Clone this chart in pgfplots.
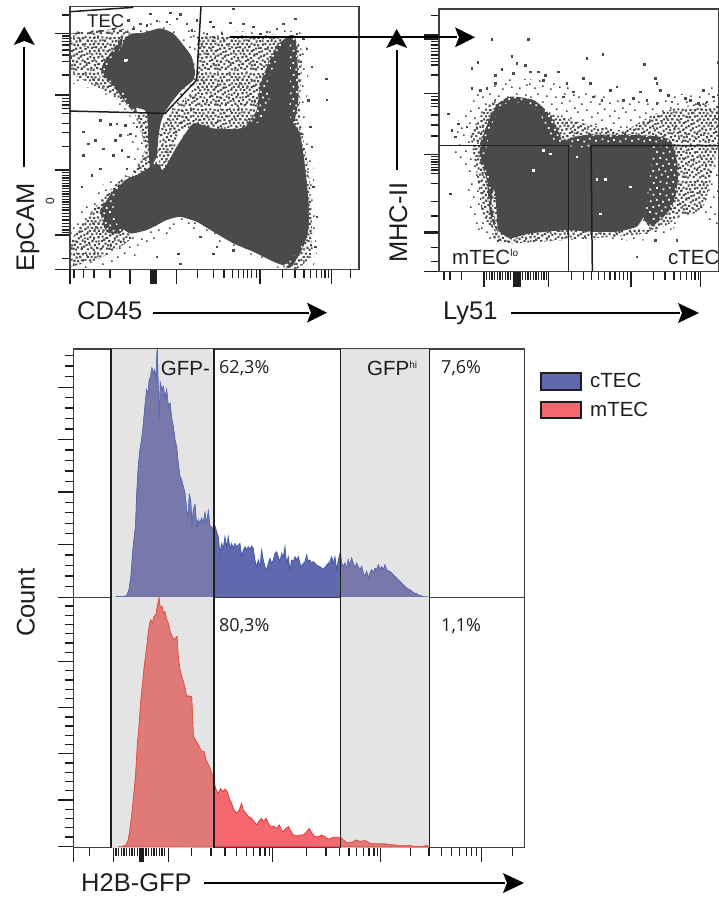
\documentclass[border=0pt]{standalone}
\usepackage{fontspec}
\setmainfont{Liberation Sans}
\newfontfamily\pct{Open Sans}
\usepackage{pgfplots}
\usepackage{pgfplotstable}
\usetikzlibrary{patterns}
\pgfplotsset{compat=1.18}
\definecolor{dens}{HTML}{4A4A4A}
\definecolor{band}{HTML}{E4E4E4}
\definecolor{bfill}{HTML}{6069AD}
\definecolor{bline}{HTML}{4058A8}
\definecolor{bfillm}{HTML}{7878AB}
\definecolor{blinem}{HTML}{5A6CB0}
\definecolor{rfill}{HTML}{F5686F}
\definecolor{rline}{HTML}{EE2A30}
\definecolor{rfillm}{HTML}{E07A78}
\definecolor{rlinem}{HTML}{E2553F}
\definecolor{ink}{HTML}{1E1E1E}
\def\spa#1#2{\pgfpathrectangle{\pgfpoint{#1pt}{#2pt}}{\pgfpoint{1.7pt}{1.7pt}}}
\def\spb#1#2{\pgfpathrectangle{\pgfpoint{#1pt}{#2pt}}{\pgfpoint{2.1pt}{2.1pt}}}
\pgfdeclarepatternformonly{specA}{\pgfpoint{-3pt}{-3pt}}{\pgfpoint{51pt}{51pt}}{\pgfpoint{48pt}{48pt}}{%
\spa{2}{3}\spa{11}{1}\spa{19}{6}\spa{29}{2}\spa{37}{7}\spa{44}{3}\spa{6}{10}\spa{15}{13}\spa{25}{10}\spa{33}{14}\spa{42}{12}\spa{1}{18}\spa{10}{20}\spa{21}{17}\spa{28}{21}\spa{38}{19}\spa{46}{22}\spa{5}{26}\spa{14}{28}\spa{23}{26}\spa{33}{27}\spa{41}{29}\spa{2}{33}\spa{9}{36}\spa{18}{34}\spa{27}{33}\spa{36}{36}\spa{45}{35}\spa{6}{42}\spa{14}{44}\spa{22}{41}\spa{31}{43}\spa{39}{42}\spa{46}{45}\spa{1}{46}\spa{25}{46}\pgfusepath{fill}}
\pgfdeclarepatternformonly{specB}{\pgfpoint{-3pt}{-3pt}}{\pgfpoint{39pt}{39pt}}{\pgfpoint{36pt}{36pt}}{%
\spb{0.4}{1.2}\spb{3.1}{0.3}\spb{4.8}{2.6}\spb{8.7}{1.1}\spb{11.2}{3.3}\spb{14.9}{0.6}\spb{18.3}{2.2}\spb{20.6}{0.2}\spb{24.2}{1.9}\spb{27.7}{0.8}\spb{30.1}{3.4}\spb{33.8}{1.3}
\spb{1.7}{5.2}\spb{7.3}{5.8}\spb{13.6}{5.1}\spb{16.2}{6.9}\spb{21.9}{4.7}\spb{26.1}{5.9}\spb{32.4}{6.3}\spb{34.9}{4.6}
\spb{0.2}{8.9}\spb{3.9}{8.1}\spb{9.6}{9.4}\spb{12.1}{8.2}\spb{19.4}{8.8}\spb{23.3}{8.3}\spb{28.8}{9.1}\spb{31.2}{10.2}
\spb{5.7}{11.6}\spb{7.9}{13.4}\spb{14.6}{11.2}\spb{17.3}{12.8}\spb{21.1}{11.9}\spb{25.4}{12.7}\spb{29.6}{13.3}\spb{34.1}{12.1}
\spb{1.2}{14.4}\spb{3.8}{15.9}\spb{11.3}{15.1}\spb{14.2}{16.3}\spb{19.2}{15.6}\spb{23.6}{16.4}\spb{27.2}{15.9}\spb{32.6}{16.2}
\spb{6.4}{17.8}\spb{9.1}{18.6}\spb{16.8}{18.9}\spb{21.4}{19.1}\spb{25.8}{19.2}\spb{30.4}{19.4}\spb{34.7}{18.8}
\spb{0.6}{20.1}\spb{3.2}{21.3}\spb{7.4}{21.9}\spb{12.4}{20.8}\spb{14.9}{22.6}\spb{18.9}{22.1}\spb{23.2}{22.7}\spb{28.1}{22.3}\spb{32.2}{22.8}
\spb{1.4}{25.2}\spb{5.1}{24.7}\spb{9.8}{25.4}\spb{12.3}{26.1}\spb{17.1}{25.6}\spb{20.7}{25.9}\spb{25.4}{26.2}\spb{29.9}{25.7}\spb{34.4}{26.3}
\spb{3.6}{28.4}\spb{7.2}{28.9}\spb{14.7}{28.8}\spb{18.6}{29.1}\spb{22.4}{28.6}\spb{27.3}{29.4}\spb{31.7}{29.2}
\spb{0.9}{31.4}\spb{5.4}{32.1}\spb{9.9}{31.7}\spb{12.6}{32.9}\spb{16.9}{32.3}\spb{21.2}{31.8}\spb{24.9}{32.4}\spb{29.3}{32.6}\spb{33.6}{31.9}\pgfusepath{fill}}
\pgfdeclarepatternformonly{specC}{\pgfpoint{-3pt}{-3pt}}{\pgfpoint{39pt}{39pt}}{\pgfpoint{36pt}{36pt}}{%
\spa{1.2}{2.1}\spa{7.3}{0.6}\spa{12.8}{3.4}\spa{19.1}{1.3}\spa{25.6}{2.8}\spa{31.4}{0.9}\spa{4.4}{7.2}\spa{10.2}{8.6}\spa{16.7}{6.9}\spa{22.3}{8.2}\spa{28.9}{7.7}\spa{33.9}{6.1}\spa{1.8}{12.8}\spa{7.9}{14.1}\spa{14.2}{12.4}\spa{20.1}{14.3}\spa{26.2}{13.6}\spa{32.4}{12.9}\spa{4.7}{19.3}\spa{11.3}{20.2}\spa{17.6}{18.6}\spa{23.8}{19.9}\spa{29.7}{18.9}\spa{34.6}{21.4}\spa{1.3}{24.7}\spa{8.1}{26.1}\spa{14.6}{24.9}\spa{20.9}{26.3}\spa{27.1}{25.2}\spa{32.8}{27.1}\spa{4.9}{31.2}\spa{11.6}{32.4}\spa{17.9}{30.8}\spa{24.3}{32.1}\spa{30.2}{31.6}\pgfusepath{fill}}
\pgfplotsset{
 flow/.style={scale only axis, y dir=reverse, tick align=outside,
  axis line style={line width=1.5pt,color=ink!85},
  xticklabels={}, yticklabels={}, tick style={line width=1.3pt,color=ink},
  major tick length=15pt, minor tick length=8.5pt, ytick pos=left, xtick pos=lower},
 dkdots/.style={only marks,color=dens,mark=square*,mark size=0.8pt,mark options={solid,draw=dens,fill=dens,line width=0.1pt}},
 wtdots/.style={only marks,color=white,mark=square*,mark size=0.8pt,mark options={solid,draw=white,fill=white,line width=0.1pt}},
 ra/.style={pattern=specA,pattern color=dens,draw=none,smooth,tension=0.4},
 rb/.style={pattern=specB,pattern color=dens,draw=none,smooth,tension=0.4},
 rcbase/.style={fill=dens,draw=none,smooth,tension=0.4},
 rc/.style={pattern=specC,pattern color=white,draw=none,smooth,tension=0.4},
 rd/.style={fill=dens,draw=none,smooth,tension=0.3},
 gate/.style={line width=1.5pt,color=ink,forget plot},
}
\newcommand{\arrowR}[4]{% x0,xbase,xtip,y
 \draw[line width=1.8pt,black](#1,-#4)--(#2+2,-#4);
 \fill[black](#3,-#4)--(#2,-#4-10)--(#2+4,-#4)--(#2,-#4+10)--cycle;}
\newcommand{\arrowU}[4]{% x,y0,ybase,ytip
 \draw[line width=1.8pt,black](#1,-#2)--(#1,-#3-2);
 \fill[black](#1,-#4)--(#1-10.5,-#3)--(#1,-#3+4)--(#1+10.5,-#3)--cycle;}
\pgfplotstableread{
x y
195 772
205 769
215 771
230 768
237 750
243 710
248 640
252 600
257 555
260 470
265 380
270 330
275 300
280 255
285 200
290 150
294 165
298 120
302 110
306 85
310 100
314 90
318 125
322 20
324 120
328 240
331 130
336 150
340 140
345 175
350 150
355 200
360 190
365 235
370 260
375 300
380 320
385 375
390 410
395 420
400 440
405 460
410 510
415 530
418 465
422 480
426 560
430 510
435 495
440 560
445 540
450 550
455 535
460 550
465 520
470 550
475 515
480 560
485 560
490 575
495 558
500 575
505 590
510 640
515 610
520 625
525 590
530 620
535 590
540 625
545 610
550 625
555 610
560 620
565 615
570 610
575 650
580 630
585 620
590 630
595 620
600 628
605 618
610 625
615 660
620 680
625 660
630 680
635 630
640 660
645 680
650 690
655 670
660 655
665 670
670 660
675 640
680 635
685 650
690 665
695 640
700 650
705 620
710 670
715 650
720 690
725 660
730 665
735 650
740 660
745 650
750 670
755 680
760 670
765 665
770 645
775 665
780 660
785 670
790 665
800 675
810 680
820 688
830 675
840 665
845 650
850 670
855 650
860 690
865 660
870 640
875 670
880 680
885 670
890 685
895 660
900 680
905 655
910 670
915 685
920 670
925 680
930 690
935 680
940 700
945 710
950 695
955 715
960 700
965 690
970 700
975 685
980 690
985 675
990 690
995 680
1000 690
1005 675
1010 690
1020 695
1030 705
1040 715
1050 725
1060 735
1070 745
1080 750
1090 758
1100 762
1110 767
1120 770
1130 771
1140 772
}\cTEC
\pgfplotstableread{
x y
205 770
215 770
228 766
235 750
240 720
245 680
250 630
255 580
258 540
262 470
268 400
272 340
277 290
283 230
288 190
292 160
296 120
302 90
308 100
312 80
318 75
322 50
327 25
331 55
336 50
340 70
345 65
350 90
355 100
360 125
365 135
370 150
376 145
381 140
385 205
390 240
395 260
400 275
405 295
410 320
415 318
425 320
430 440
436 450
445 465
455 485
462 485
468 510
478 530
485 550
492 570
497 597
505 610
512 596
518 605
525 597
532 605
538 625
545 640
552 660
560 670
568 660
575 640
580 660
588 670
595 680
605 685
612 695
620 705
628 692
635 685
640 695
648 685
655 700
662 710
670 708
680 715
688 705
698 725
708 715
716 710
722 722
730 735
740 738
750 735
760 735
770 725
778 715
786 730
795 740
805 740
815 735
825 740
835 748
850 742
865 742
880 750
890 758
905 758
920 750
930 755
945 752
960 760
975 762
990 762
1005 762
1020 764
1040 766
1060 768
1080 766
1090 770
1120 770
1130 766
1135 771
}\mTEC
\begin{document}
\begin{tikzpicture}[x=1pt,y=1pt]
\useasboundingbox (0,0) rectangle (719,-899);
%---------------- CD45 / EpCAM
\begin{axis}[flow,anchor=north west,at={(70pt,-6.7pt)},width=289pt,height=262.7pt,
 xmin=210,xmax=1077,ymin=20,ymax=808,
 xtick={210,390,452,455,458,461,464,467,470,530,780,995},
 minor xtick={222,250,282,330,593,640,672,697,715,730,742,755,770,848,885,912,932,950,965,975,985,1052},
 ytick={100,285,510,705,808},
 minor ytick={45,108,116,125,135,150,165,185,225,295,305,315,325,340,370,398,440,518,526,534,542,550,558,566,574,582,590,598,606,614,622,630,640,650,660,670,680,690,698,775}]
\addplot[ra] coordinates {(210,95)(400,75)(470,62)(550,85)(600,95)(700,95)(905,100)(925,250)(915,350)(940,500)(945,650)(945,790)(850,808)(780,775)(640,720)(590,690)(540,680)(480,720)(400,770)(330,790)(210,808)(210,700)(240,640)(290,570)(350,525)(400,510)(400,450)(380,420)(390,350)(330,290)(270,265)(210,240)(210,95)} --cycle;
\addplot[rb] coordinates {(210,100)(390,90)(320,190)(300,230)(345,260)(395,325)(300,265)(250,240)(210,210)(210,100)} --cycle;
\addplot[rb] coordinates {(590,105)(700,110)(860,110)(880,240)(870,380)(720,385)(640,385)(580,370)(530,410)(525,510)(480,525)(480,400)(510,340)(590,250)(590,105)} --cycle;
\addplot[rb] coordinates {(210,800)(215,720)(270,640)(350,550)(400,530)(350,680)(400,710)(300,775)(210,800)} --cycle;
\addplot[rb] coordinates {(860,105)(905,150)(900,350)(925,500)(935,650)(930,770)(850,800)(850,400)(860,105)} --cycle;
\addplot[rb] coordinates {(405,345)(445,335)(470,400)(470,490)(400,525)(420,480)(435,440)(405,345)} --cycle;
% dark base with white specks
\addplot[rcbase] coordinates {(780,250)(830,140)(885,110)(895,300)(880,390)(910,500)(925,600)(925,690)(900,760)(860,790)(860,400)(740,385)(770,330)(780,250)} --cycle;
\addplot[rc] coordinates {(780,250)(830,140)(885,110)(895,300)(880,390)(910,500)(925,600)(925,690)(900,760)(860,790)(860,400)(740,385)(770,330)(780,250)} --cycle;
\addplot[rcbase] coordinates {(300,630)(350,560)(380,560)(370,690)(320,695)(300,630)} --cycle;
\addplot[rc] coordinates {(300,630)(350,560)(380,560)(370,690)(320,695)(300,630)} --cycle;
\addplot[rcbase] coordinates {(370,105)(345,140)(310,190)(305,225)(345,265)(395,330)(410,330)(360,200)(370,105)} --cycle;
\addplot[rc] coordinates {(370,105)(345,140)(310,190)(305,225)(345,265)(395,330)(410,330)(360,200)(370,105)} --cycle;
% dense clouds
\addplot[rd] coordinates {(395,100)(430,98)(480,85)(520,100)(550,135)(575,170)(585,215)(580,240)(545,270)(520,300)(495,335)(482,370)(474,420)(470,470)(450,500)(445,430)(440,335)(400,320)(385,285)(345,250)(320,225)(325,185)(360,150)(375,115)(395,100)} --cycle;
\addplot[rd] coordinates {(350,570)(375,540)(420,520)(470,490)(490,510)(530,440)(580,370)(640,385)(720,385)(790,360)(810,290)(805,240)(850,135)(868,125)(870,250)(870,350)(900,400)(915,500)(925,600)(925,680)(915,720)(880,770)(850,795)(810,780)(760,755)(700,730)(640,695)(590,665)(540,650)(500,660)(440,690)(390,700)(350,670)(340,630)(350,570)} --cycle;
% individual events
\addplot[dkdots] coordinates {(450,40)(510,38)(530,55)(470,62)(420,70)(400,85)(440,75)(500,65)(560,70)(575,90)(590,60)(630,65)(640,80)(690,68)(730,70)(760,80)(800,95)(830,85)(850,70)(885,55)(700,25)(620,100)(540,42)(385,60)(360,92)(340,85)(300,92)(270,98)(235,98)
(978,235)(980,298)(945,740)(950,650)(940,560)(935,440)(930,380)(925,300)(935,200)(920,145)(910,115)(890,100)(640,110)(665,100)(720,110)(780,100)
(250,395)(285,420)(265,430)(345,420)(310,445)(250,465)(360,405)(300,360)(330,372)(300,505)(275,525)(245,560)(540,790)(600,710)(650,740)(535,760)(470,770)(640,760)(700,750)
(375,375)(350,370)(390,400)(365,450)(385,470)(340,465)(380,505)(410,380)} ;
\addplot[wtdots] coordinates {(375,180)(380,178)} ;
% gate
\addplot[gate] coordinates {(210,333)(495,340)(590,240)(603,20)};
\addplot[gate] coordinates {(210,35)(400,22)};
\end{axis}
%---------------- Ly51 / MHC-II
\begin{axis}[flow,anchor=north west,at={(439pt,-9pt)},width=280pt,height=262.7pt,
 xmin=207,xmax=1047,ymin=27,ymax=815,
 xtick={205,342,430,434,438,442,446,450,535,783,992},
 minor xtick={222,240,275,350,358,366,374,382,390,398,406,414,422,458,466,474,482,490,498,506,514,522,530,605,640,665,685,703,720,735,748,760,772,850,885,912,932,950,965,975,985},
 ytick={103,107,111,115,119,280,463,695,698,701,815},
 minor ytick={47,125,135,145,155,165,175,185,195,225,290,300,310,320,345,375,408,470,478,486,494,502,510,520,550,605,648,742,785}]
\addplot[ra] coordinates {(245,400)(300,300)(380,240)(500,240)(650,270)(800,300)(950,280)(1047,280)(1047,660)(990,640)(920,680)(830,720)(700,720)(600,715)(430,730)(340,710)(300,650)(290,550)(260,480)(245,400)} --cycle;
\addplot[rb] coordinates {(540,340)(640,370)(760,390)(860,340)(1000,310)(1047,340)(1047,420)(1000,620)(930,650)(840,690)(840,500)(700,440)(560,440)(540,340)} --cycle;
\addplot[rb] coordinates {(300,400)(350,320)(385,300)(345,440)(375,580)(385,690)(340,650)(320,520)(300,400)} --cycle;
\addplot[rb] coordinates {(385,690)(840,690)(790,705)(420,730)(360,710)(385,690)} --cycle;
\addplot[rcbase] coordinates {(560,425)(650,405)(800,405)(900,420)(925,520)(905,620)(840,680)(800,600)(800,460)(560,440)(560,425)} --cycle;
\addplot[rc] coordinates {(560,425)(650,405)(800,405)(900,420)(925,520)(905,620)(840,680)(800,600)(800,460)(560,440)(560,425)} --cycle;
\addplot[rcbase] coordinates {(330,430)(365,340)(385,310)(420,290)(490,300)(540,345)(575,420)(560,440)(420,420)(365,600)(385,700)(360,640)(350,540)(330,480)(330,430)} --cycle;
\addplot[rc] coordinates {(330,430)(365,340)(385,310)(420,290)(490,300)(540,345)(575,420)(560,440)(420,420)(365,600)(385,700)(360,640)(350,540)(330,480)(330,430)} --cycle;
\addplot[rd] coordinates {(350,440)(362,385)(385,330)(420,305)(480,315)(510,345)(530,385)(560,432)(640,442)(700,432)(800,432)(845,450)(845,490)(835,560)(825,640)(800,680)(740,695)(660,695)(590,690)(480,700)(420,715)(385,690)(380,640)(375,580)(360,530)(345,480)(350,440)} --cycle;
\addplot[dkdots] coordinates {(365,118)(475,118)(425,168)(650,175)(698,162)(823,193)(323,187)(305,205)(395,208)(440,190)(465,195)(480,215)(505,215)(525,225)(565,215)(855,235)(860,250)(1045,187)(520,240)(430,220)(375,225)(375,250)(640,235)(660,250)(720,270)(740,260)(810,275)(870,270)(895,285)(945,295)(1000,270)(1030,290)(240,580)(235,340)(245,390)(255,410)(265,370)(290,380)(305,265)(330,270)(350,265)(590,250)(610,275)(580,290)(670,290)(695,300)(760,300)(790,295)(830,300)(860,310)(905,305)(960,300)(985,310)(1010,305)(1040,320)(800,770)(855,720)(920,720)} ;
\addplot[wtdots] coordinates {(490,510)(680,537)(705,537)(690,640)(780,560)(540,460)(520,450)(620,470)} ;
\addplot[gate] coordinates {(207,437)(595,437)(595,815)};
\addplot[gate] coordinates {(1047,437)(663,437)(667,815)};
\end{axis}
%---------------- cTEC histogram
\begin{axis}[flow,anchor=north west,at={(73.3pt,-349pt)},width=451pt,height=248.3pt,
 xmin=70,xmax=1423,ymin=27,ymax=772,xtick=\empty,
 ytick={142,298,456,613,772},
 minor ytick={47,78,110,173,204,235,267,330,361,393,424,487,518,550,581,645,676,708,739}]
\addplot[fill=band,draw=none] coordinates {(183,0)(492,0)(492,900)(183,900)} --cycle;
\addplot[fill=band,draw=none] coordinates {(872,0)(1138,0)(1138,900)(872,900)} --cycle;
\addplot[fill=bfill,draw=bline,line width=0.7pt] table {\cTEC} --cycle;
\addplot[fill=bfillm,draw=blinem,line width=0.7pt,x filter/.expression={x<183?183:(x>492?492:x)}] table {\cTEC} --cycle;
\addplot[fill=bfillm,draw=blinem,line width=0.7pt,x filter/.expression={x<872?872:(x>1138?1138:x)}] table {\cTEC} --cycle;
\addplot[gate] coordinates {(183,0)(183,900)};
\addplot[gate] coordinates {(492,0)(492,900)};
\addplot[gate] coordinates {(872,0)(872,900)};
\addplot[gate] coordinates {(1138,0)(1138,900)};
\end{axis}
%---------------- mTEC histogram
\begin{axis}[flow,anchor=north west,at={(73.3pt,-597.3pt)},width=451pt,height=250pt,
 xmin=70,xmax=1423,ymin=22,ymax=772,
 xtick={70,190,268,271,274,277,280,355,668,992,1295},
 minor xtick={118,198,206,214,222,230,238,246,254,262,288,296,304,312,320,328,336,344,425,483,525,560,590,610,630,645,658,770,828,868,897,920,940,957,972,983,1082,1137,1175,1205,1228,1250,1265,1280,1387},
 ytick={22,214,353,491,630,770},
 minor ytick={48,76,104,131,159,187,242,270,298,325,381,408,436,464,519,547,575,602,658,686,713,741}]
\addplot[fill=band,draw=none] coordinates {(183,0)(492,0)(492,900)(183,900)} --cycle;
\addplot[fill=band,draw=none] coordinates {(872,0)(1138,0)(1138,900)(872,900)} --cycle;
\addplot[fill=rfill,draw=rline,line width=0.7pt] table {\mTEC} --cycle;
\addplot[fill=rfillm,draw=rlinem,line width=0.7pt,x filter/.expression={x<183?183:(x>492?492:x)}] table {\mTEC} --cycle;
\addplot[fill=rfillm,draw=rlinem,line width=0.7pt,x filter/.expression={x<872?872:(x>1138?1138:x)}] table {\mTEC} --cycle;
\addplot[gate] coordinates {(183,0)(183,900)};
\addplot[gate] coordinates {(492,0)(492,900)};
\addplot[gate] coordinates {(872,0)(872,900)};
\addplot[gate] coordinates {(1138,0)(1138,900)};
\end{axis}
%---------------- annotations
\tikzset{lab/.style={inner sep=0pt,anchor=base west,text=ink}}
\newcommand{\biglab}{\fontsize{25.5}{30}\selectfont}
\newcommand{\tinysup}[1]{\raisebox{7.5pt}{\fontsize{10}{10}\selectfont #1}}
\node[lab,font=\biglab] at (77,-319.5) {CD45};
\node[lab,font=\biglab] at (443,-319.5) {Ly51};
\node[lab,font=\biglab] at (81,-891.7) {H2B-GFP};
\node[lab,font=\biglab,rotate=90] at (34,-271.7) {EpCAM};
\node[lab,font=\biglab,rotate=90] at (407,-263) {MHC-II};
\node[lab,font=\biglab,rotate=90] at (34.5,-637) {Count};
\node[lab,font=\fontsize{18.5}{22}\selectfont] at (87,-28) {TEC};
\node[lab,font=\fontsize{20.5}{24}\selectfont] at (452,-264) {mTEC\tinysup{lo}};
\node[lab,font=\fontsize{20.5}{24}\selectfont] at (668,-264) {cTEC};
\node[lab,font=\fontsize{20.5}{24}\selectfont] at (160.7,-375.7) {GFP-};
\node[lab,font=\fontsize{20.5}{24}\selectfont] at (367,-375.7) {GFP\tinysup{hi}};
\node[lab,font=\fontsize{18}{22}\selectfont\pct] at (219,-373) {62,3\%};
\node[lab,font=\fontsize{18}{22}\selectfont\pct] at (441,-373) {7,6\%};
\node[lab,font=\fontsize{18}{22}\selectfont\pct] at (219,-631.7) {80,3\%};
\node[lab,font=\fontsize{18}{22}\selectfont\pct] at (441,-631.7) {1,1\%};
\node[inner sep=0pt,text=ink,font=\fontsize{12}{12}\selectfont,rotate=90] at (50,-201) {0};
% legend
\draw[line width=1.6pt,ink,fill=bfill] (541,-373) rectangle (581,-390);
\draw[line width=1.6pt,ink,fill=rfill] (541,-402) rectangle (581,-418);
\node[lab,font=\fontsize{20.5}{24}\selectfont] at (590,-387.3) {cTEC};
\node[lab,font=\fontsize{20.5}{24}\selectfont] at (590,-416) {mTEC};
% arrows
\arrowR{230}{455}{475}{37.3}
\arrowU{396.7}{170}{48}{29}
\arrowU{24.3}{167}{45}{26.7}
\arrowR{153}{307}{327}{312.7}
\arrowR{511}{678}{699}{313}
\arrowR{204}{503}{524}{883}
\end{tikzpicture}
\end{document}
